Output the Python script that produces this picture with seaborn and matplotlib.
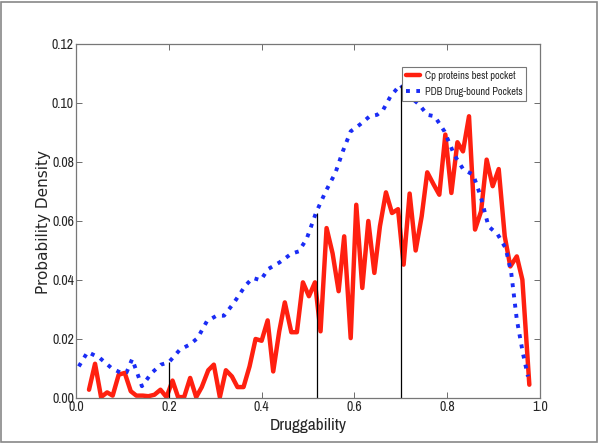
import numpy as np
import pandas as pd
import matplotlib
matplotlib.use("Agg")
import matplotlib.pyplot as plt
import seaborn as sns
from matplotlib import font_manager as fm
from matplotlib.patches import Rectangle

# Cp proteins best pocket (red)
cp_x = [0.028, 0.041, 0.054, 0.067, 0.079, 0.092, 0.105, 0.118, 0.130, 0.144,
        0.156, 0.169, 0.182, 0.195, 0.208, 0.220, 0.233, 0.246, 0.259, 0.271,
        0.285, 0.297, 0.310, 0.323, 0.336, 0.348, 0.361, 0.374, 0.387, 0.400,
        0.413, 0.425, 0.438, 0.450, 0.464, 0.476, 0.489, 0.502, 0.515, 0.527,
        0.540, 0.553, 0.566, 0.578, 0.592, 0.604, 0.617, 0.630, 0.643, 0.655,
        0.668, 0.681, 0.694, 0.706, 0.719, 0.732, 0.745, 0.757, 0.771, 0.783,
        0.796, 0.809, 0.822, 0.834, 0.847, 0.860, 0.873, 0.885, 0.898, 0.911,
        0.924, 0.936, 0.950, 0.962, 0.977]
cp_y = [0.0028, 0.0116, 0.0003, 0.0019, 0.0008, 0.0079, 0.0085, 0.0023, 0.0008, 0.0008,
        0.0006, 0.0011, 0.0028, 0.0003, 0.0059, 0.0003, 0.0003, 0.0068, 0.0003, 0.0037,
        0.0094, 0.0113, 0.0003, 0.0094, 0.0073, 0.0037, 0.0037, 0.0107, 0.0200, 0.0194,
        0.0263, 0.0090, 0.0226, 0.0324, 0.0223, 0.0223, 0.0392, 0.0345, 0.0392, 0.0226,
        0.0576, 0.0490, 0.0362, 0.0548, 0.0203, 0.0655, 0.0373, 0.0600, 0.0424, 0.0582,
        0.0697, 0.0627, 0.0640, 0.0452, 0.0693, 0.0500, 0.0616, 0.0765, 0.0723, 0.0689,
        0.0893, 0.0695, 0.0867, 0.0836, 0.0955, 0.0571, 0.0633, 0.0808, 0.0718, 0.0776,
        0.0548, 0.0446, 0.0480, 0.0401, 0.0045]

# PDB drug-bound pockets (blue dotted)
pdb_x = [0.006, 0.025, 0.051, 0.076, 0.097, 0.109, 0.121, 0.142, 0.163, 0.183,
         0.200, 0.224, 0.245, 0.262, 0.282, 0.303, 0.319, 0.340, 0.365, 0.381,
         0.398, 0.414, 0.439, 0.464, 0.480, 0.497, 0.517, 0.538, 0.559, 0.575,
         0.592, 0.612, 0.633, 0.649, 0.662, 0.678, 0.699, 0.719, 0.740, 0.757,
         0.773, 0.794, 0.815, 0.835, 0.856, 0.872, 0.889, 0.909, 0.926, 0.938,
         0.950, 0.963, 0.974]
pdb_y = [0.0107, 0.0156, 0.0136, 0.0102, 0.0085, 0.0087, 0.0132, 0.0040, 0.0085, 0.0113,
         0.0121, 0.0164, 0.0181, 0.0203, 0.0260, 0.0279, 0.0279, 0.0322, 0.0381, 0.0407,
         0.0399, 0.0437, 0.0460, 0.0489, 0.0497, 0.0539, 0.0627, 0.0700, 0.0763, 0.0836,
         0.0904, 0.0927, 0.0955, 0.0960, 0.0977, 0.1023, 0.1062, 0.1023, 0.0994, 0.0960,
         0.0955, 0.0904, 0.0825, 0.0774, 0.0757, 0.0684, 0.0582, 0.0554, 0.0508, 0.0424,
         0.0266, 0.0153, 0.0073]

# vertical marker lines
mark_x = [0.20, 0.52, 0.70]
mark_top = [0.0121, 0.0627, 0.1062]

x_ticks = [0.0, 0.2, 0.4, 0.6, 0.8, 1.0]
y_ticks = [0.00, 0.02, 0.04, 0.06, 0.08, 0.10, 0.12]

sns.set_style("white")

# pick a condensed face if one is installed, else Liberation Sans
names = sorted({f.name for f in fm.fontManager.ttflist})
cond = [n for n in names if "Narrow" in n or "Condensed" in n]
narrow = cond[:1] + ["Liberation Sans", "DejaVu Sans"]
tick_size = 10 if cond else 8.5

fig = plt.figure(figsize=(6, 4.43), dpi=100)
ax = fig.add_axes([0.1267, 0.1016, 0.7733, 0.7991])

cp = pd.DataFrame({"x": cp_x, "y": cp_y})
pdb = pd.DataFrame({"x": pdb_x, "y": pdb_y})

sns.lineplot(data=cp, x="x", y="y", ax=ax, color="#ff2010", linewidth=3.2,
             label="Cp proteins best pocket")
sns.lineplot(data=pdb, x="x", y="y", ax=ax, color="#1a2cf5", linewidth=2.8,
             linestyle=":", label="PDB Drug-bound Pockets")
ax.vlines(mark_x, 0, mark_top, colors="black", linewidth=0.9)

ax.set_xlim(0, 1)
ax.set_ylim(0, 0.12)
ax.set_xticks(x_ticks)
ax.set_xticklabels([f"{t:.1f}" for t in x_ticks], family=narrow, fontsize=tick_size)
ax.set_yticks(y_ticks)
ax.set_yticklabels([f"{t:.2f}" for t in y_ticks], family=narrow, fontsize=tick_size)
ax.tick_params(direction="in", length=4, width=0.6, color="#555555",
               top=True, right=True, bottom=True, left=True, pad=1.5)
for s in ax.spines.values():
    s.set_color("#777777")
    s.set_linewidth(0.9)

ax.set_xlabel("Druggability", family=narrow, fontsize=12.5 if cond else 10, labelpad=3)
ax.set_ylabel("Probability Density", family="DejaVu Sans", fontsize=11)
ax.yaxis.set_label_coords(-0.055, 0.497)

leg = ax.legend(loc="upper right", bbox_to_anchor=(0.97, 0.935), borderaxespad=0,
                fancybox=False, edgecolor="#777777", framealpha=1,
                prop={"family": narrow, "size": 7.5}, handlelength=1.35,
                handletextpad=0.45, borderpad=0.35, labelspacing=0.6)
leg.get_frame().set_linewidth(0.8)

fig.patches.append(Rectangle((0.002, 0.003), 0.993, 0.992, transform=fig.transFigure,
                             fill=False, edgecolor="#888888", linewidth=1.2))

fig.savefig("out.png", dpi=100)
